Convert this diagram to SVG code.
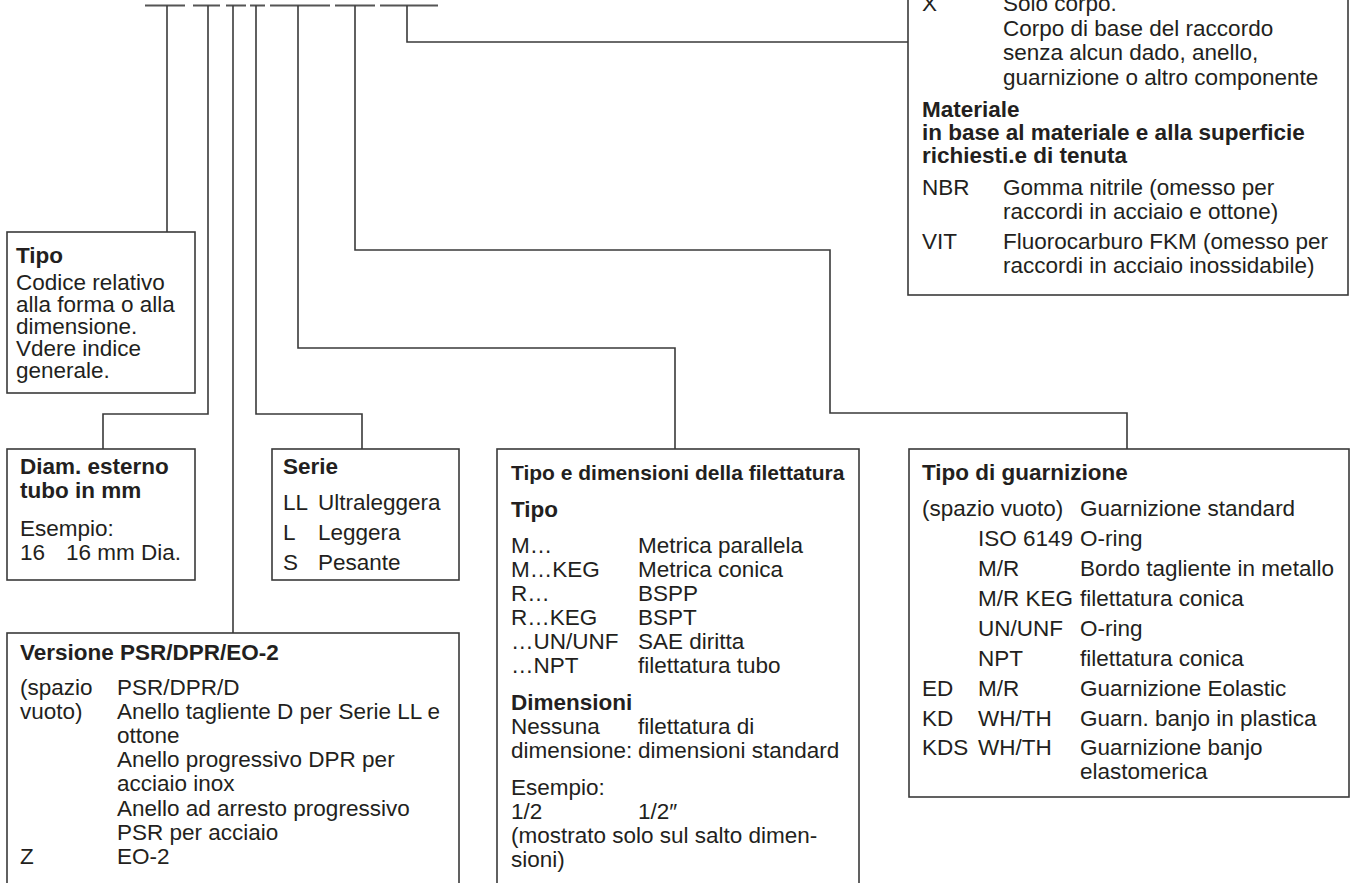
<svg xmlns="http://www.w3.org/2000/svg" width="1353" height="883" viewBox="0 0 1353 883">
<style>
text{font-family:"Liberation Sans",Arial,Helvetica,sans-serif;font-size:22.5px;fill:#231f20}
.b{font-weight:bold}
.h{font-size:21px}
.box{fill:#fff;stroke:#3a3a3a;stroke-width:1.6}
.ln{fill:none;stroke:#3a3a3a;stroke-width:1.6}
.tick{fill:none;stroke:#555;stroke-width:2}
</style>
<rect width="1353" height="883" fill="#fff"/>
<g id="connectors">
<path class="tick" d="M145 5.5H185M193 5.5H220M226 5.5H246M250 5.5H265M270 5.5H330M335 5.5H375M380 5.5H438"/>
<path class="ln" d="M167 5.5V232"/>
<path class="ln" d="M208 5.5V414H103V449"/>
<path class="ln" d="M233 5.5V633"/>
<path class="ln" d="M256 5.5V414H362V449"/>
<path class="ln" d="M298 5.5V348H675V449"/>
<path class="ln" d="M355 5.5V250H830V413H1127V449"/>
<path class="ln" d="M407 5.5V42H908"/>
</g>
<g id="node-finish">
<rect class="box" x="908" y="-10" width="440" height="305"/>
<text x="922" y="11">X</text><text x="1003" y="11">Solo corpo.</text>
<text x="1003" y="35.5">Corpo di base del raccordo</text>
<text x="1003" y="60">senza alcun dado, anello,</text>
<text x="1003" y="84.5">guarnizione o altro componente</text>
<text class="b" x="922" y="117">Materiale</text>
<text class="b" x="922" y="140">in base al materiale e alla superficie</text>
<text class="b" x="922" y="163">richiesti.e di tenuta</text>
<text x="922" y="195">NBR</text><text x="1003" y="195">Gomma nitrile (omesso per</text>
<text x="1003" y="219">raccordi in acciaio e ottone)</text>
<text x="922" y="249">VIT</text><text x="1003" y="249">Fluorocarburo FKM (omesso per</text>
<text x="1003" y="273">raccordi in acciaio inossidabile)</text>
</g>
<g id="node-tipo">
<rect class="box" x="7" y="232" width="188" height="161"/>
<text class="b" x="16" y="263">Tipo</text>
<text x="16" y="290">Codice relativo</text>
<text x="16" y="312">alla forma o alla</text>
<text x="16" y="334">dimensione.</text>
<text x="16" y="356">Vdere indice</text>
<text x="16" y="378">generale.</text>
</g>
<g id="node-diam">
<rect class="box" x="7" y="449" width="188" height="131"/>
<text class="b" x="20" y="474">Diam. esterno</text>
<text class="b" x="20" y="498">tubo in mm</text>
<text x="20" y="536">Esempio:</text>
<text x="20" y="560">16</text><text x="66" y="560">16 mm Dia.</text>
</g>
<g id="node-serie">
<rect class="box" x="272" y="449" width="187" height="131"/>
<text class="b" x="283" y="474">Serie</text>
<text x="283" y="510">LL</text><text x="318" y="510">Ultraleggera</text>
<text x="283" y="540">L</text><text x="318" y="540">Leggera</text>
<text x="283" y="570">S</text><text x="318" y="570">Pesante</text>
</g>
<g id="node-versione">
<rect class="box" x="7" y="633" width="452" height="270"/>
<text class="b" x="20" y="660">Versione PSR/DPR/EO-2</text>
<text x="20" y="695">(spazio</text><text x="117" y="695">PSR/DPR/D</text>
<text x="20" y="719">vuoto)</text><text x="117" y="719">Anello tagliente D per Serie LL e</text>
<text x="117" y="743">ottone</text>
<text x="117" y="767">Anello progressivo DPR per</text>
<text x="117" y="791">acciaio inox</text>
<text x="117" y="816">Anello ad arresto progressivo</text>
<text x="117" y="840">PSR per acciaio</text>
<text x="20" y="864">Z</text><text x="117" y="864">EO-2</text>
</g>
<g id="node-filettatura">
<rect class="box" x="497" y="449" width="362" height="454"/>
<text class="b h" x="511" y="480">Tipo e dimensioni della filettatura</text>
<text class="b" x="511" y="517">Tipo</text>
<text x="511" y="553">M…</text><text x="638" y="553">Metrica parallela</text>
<text x="511" y="577">M…KEG</text><text x="638" y="577">Metrica conica</text>
<text x="511" y="601">R…</text><text x="638" y="601">BSPP</text>
<text x="511" y="625">R…KEG</text><text x="638" y="625">BSPT</text>
<text x="511" y="649">…UN/UNF</text><text x="638" y="649">SAE diritta</text>
<text x="511" y="673">…NPT</text><text x="638" y="673">filettatura tubo</text>
<text class="b" x="511" y="710">Dimensioni</text>
<text x="511" y="734">Nessuna</text><text x="638" y="734">filettatura di</text>
<text x="511" y="758">dimensione:</text><text x="638" y="758">dimensioni standard</text>
<text x="511" y="795">Esempio:</text>
<text x="511" y="819">1/2</text><text x="638" y="819">1/2″</text>
<text x="511" y="843">(mostrato solo sul salto dimen-</text>
<text x="511" y="867">sioni)</text>
</g>
<g id="node-guarnizione">
<rect class="box" x="909" y="449" width="440" height="348"/>
<text class="b" x="922" y="480">Tipo di guarnizione</text>
<text x="922" y="516">(spazio vuoto)</text><text x="1080" y="516">Guarnizione standard</text>
<text x="978" y="546">ISO 6149</text><text x="1080" y="546">O-ring</text>
<text x="978" y="576">M/R</text><text x="1080" y="576">Bordo tagliente in metallo</text>
<text x="978" y="606">M/R KEG</text><text x="1080" y="606">filettatura conica</text>
<text x="978" y="636">UN/UNF</text><text x="1080" y="636">O-ring</text>
<text x="978" y="666">NPT</text><text x="1080" y="666">filettatura conica</text>
<text x="922" y="696">ED</text><text x="978" y="696">M/R</text><text x="1080" y="696">Guarnizione Eolastic</text>
<text x="922" y="726">KD</text><text x="978" y="726">WH/TH</text><text x="1080" y="726">Guarn. banjo in plastica</text>
<text x="922" y="755">KDS</text><text x="978" y="755">WH/TH</text><text x="1080" y="755">Guarnizione banjo</text>
<text x="1080" y="779">elastomerica</text>
</g>
</svg>
